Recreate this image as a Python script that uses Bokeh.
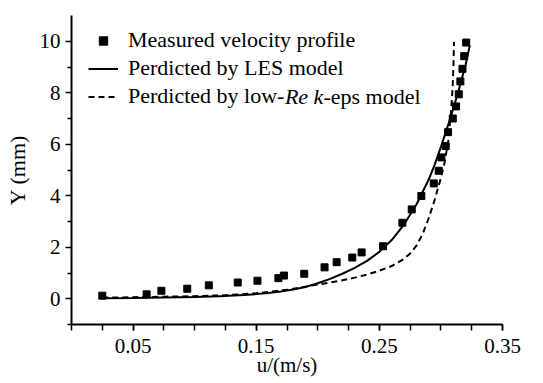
from bokeh.plotting import figure
from bokeh.models import Range1d, FixedTicker, Label, Legend, LegendItem
from bokeh.embed import file_html
from bokeh.resources import INLINE

# ---- data ----
meas_u = [0.025, 0.061, 0.073, 0.094, 0.1115, 0.135, 0.151, 0.168, 0.1725, 0.189,
          0.2055, 0.2153, 0.228, 0.2356, 0.253, 0.2687, 0.2763, 0.2841, 0.2942, 0.2982,
          0.3004, 0.3039, 0.3058, 0.3096, 0.3123, 0.3145, 0.3158, 0.3175, 0.3189, 0.3205]
meas_y = [0.12, 0.17, 0.31, 0.39, 0.52, 0.63, 0.70, 0.80, 0.90, 0.97,
          1.22, 1.42, 1.60, 1.80, 2.04, 2.95, 3.47, 3.99, 4.48, 4.97,
          5.49, 5.93, 6.47, 7.00, 7.47, 7.94, 8.44, 8.93, 9.42, 9.95]

les_u = [0.025, 0.05, 0.075, 0.10, 0.12, 0.14, 0.15, 0.16, 0.17, 0.18, 0.19, 0.20,
         0.21, 0.22, 0.23, 0.24, 0.25, 0.26, 0.27, 0.28, 0.29, 0.295, 0.30, 0.305,
         0.31, 0.315, 0.32, 0.3235]
les_y = [0.02, 0.03, 0.05, 0.07, 0.10, 0.145, 0.18, 0.225, 0.285, 0.36, 0.46, 0.60,
         0.77, 0.97, 1.20, 1.47, 1.82, 2.28, 2.88, 3.65, 4.62, 5.22, 5.90, 6.62,
         7.38, 8.20, 9.08, 9.85]

keps_u = [0.025, 0.05, 0.075, 0.10, 0.125, 0.15, 0.175, 0.19, 0.20, 0.21, 0.22, 0.23,
          0.24, 0.25, 0.26, 0.27, 0.275, 0.28, 0.285, 0.29, 0.295, 0.30, 0.303, 0.306,
          0.3083, 0.3096, 0.3103, 0.3106]
keps_y = [0.04, 0.06, 0.08, 0.10, 0.14, 0.21, 0.35, 0.47, 0.55, 0.63, 0.72, 0.82,
          0.94, 1.09, 1.27, 1.55, 1.76, 2.05, 2.50, 3.12, 3.85, 4.70, 5.30, 6.15,
          7.30, 8.30, 9.30, 9.98]

x_major = [0.05, 0.15, 0.25, 0.35]
x_minor = [0.0, 0.025, 0.05, 0.075, 0.10, 0.125, 0.15, 0.175, 0.20, 0.225, 0.25, 0.275, 0.30, 0.325, 0.35]
y_major = [0, 2, 4, 6, 8, 10]
y_minor = [-1, 1, 3, 5, 7, 9]

FONT = "Liberation Serif"

p = figure(width=543, height=383, output_backend="svg", toolbar_location=None,
           x_range=Range1d(0, 0.35), y_range=Range1d(-1, 11),
           min_border_left=71, min_border_right=41, min_border_top=15, min_border_bottom=59)
p.xgrid.visible = False
p.ygrid.visible = False
p.outline_line_color = None
p.background_fill_color = "white"

p.xaxis.ticker = FixedTicker(ticks=x_major, minor_ticks=x_minor)
p.yaxis.ticker = FixedTicker(ticks=y_major, minor_ticks=y_minor)
p.xaxis.major_label_overrides = {0.05: "0.05", 0.15: "0.15", 0.25: "0.25", 0.35: "0.35"}
for ax in (p.xaxis, p.yaxis):
    ax.axis_line_width = 2
    ax.axis_line_color = "black"
    ax.major_tick_line_color = "black"
    ax.minor_tick_line_color = "black"
    ax.major_tick_line_width = 1.5
    ax.minor_tick_line_width = 1.5
    ax.major_tick_in = 0
    ax.minor_tick_in = 0
    ax.major_label_text_font = FONT
    ax.major_label_text_font_size = "21px"
    ax.major_label_text_color = "black"
    ax.axis_label_text_font = FONT
    ax.axis_label_text_font_style = "normal"
    ax.axis_label_text_color = "black"
p.xaxis.major_tick_out = 6
p.xaxis.minor_tick_out = 6
p.xaxis.major_label_standoff = 8
p.xaxis.axis_label = "u/(m/s)"
p.xaxis.axis_label_text_font_size = "21px"
p.xaxis.axis_label_standoff = -3
p.yaxis.major_tick_out = 6
p.yaxis.minor_tick_out = 4
p.yaxis.major_label_standoff = 5
p.yaxis.axis_label = "Y (mm)"
p.yaxis.axis_label_text_font_size = "22px"
p.yaxis.axis_label_standoff = 7

r_meas = p.scatter(meas_u, meas_y, marker="square", size=7, color="black")
r_les = p.line(les_u, les_y, line_width=2, color="black")
r_keps = p.line(keps_u, keps_y, line_width=2, color="black", line_dash="6 4")

legend = Legend(items=[
    LegendItem(label="Measured velocity profile", renderers=[r_meas]),
    LegendItem(label="Perdicted by LES model", renderers=[r_les]),
    LegendItem(label="Perdicted by low-", renderers=[r_keps]),
], location=(17, 215))
legend.label_text_font = FONT
legend.label_text_font_size = "22px"
legend.label_text_color = "black"
legend.glyph_width = 30
legend.glyph_height = 21
legend.label_height = 21
legend.label_standoff = 10
legend.spacing = 2
legend.padding = 0
legend.margin = 0
legend.border_line_alpha = 0
legend.background_fill_alpha = 0
p.add_layout(legend)

def lab(text, xo, italic=False):
    p.add_layout(Label(x=0, y=11, x_offset=xo, y_offset=-81, text=text,
                       text_font=FONT, text_font_size="22px",
                       text_font_style="italic" if italic else "normal",
                       text_align="left", text_baseline="middle", text_color="black"))

# rest of third legend entry (mixed styles)
lab("Re", 213.4, italic=True)
lab("k", 242.1, italic=True)
lab("-eps model", 251.9)

open("out.html", "w").write(file_html(p, INLINE))
